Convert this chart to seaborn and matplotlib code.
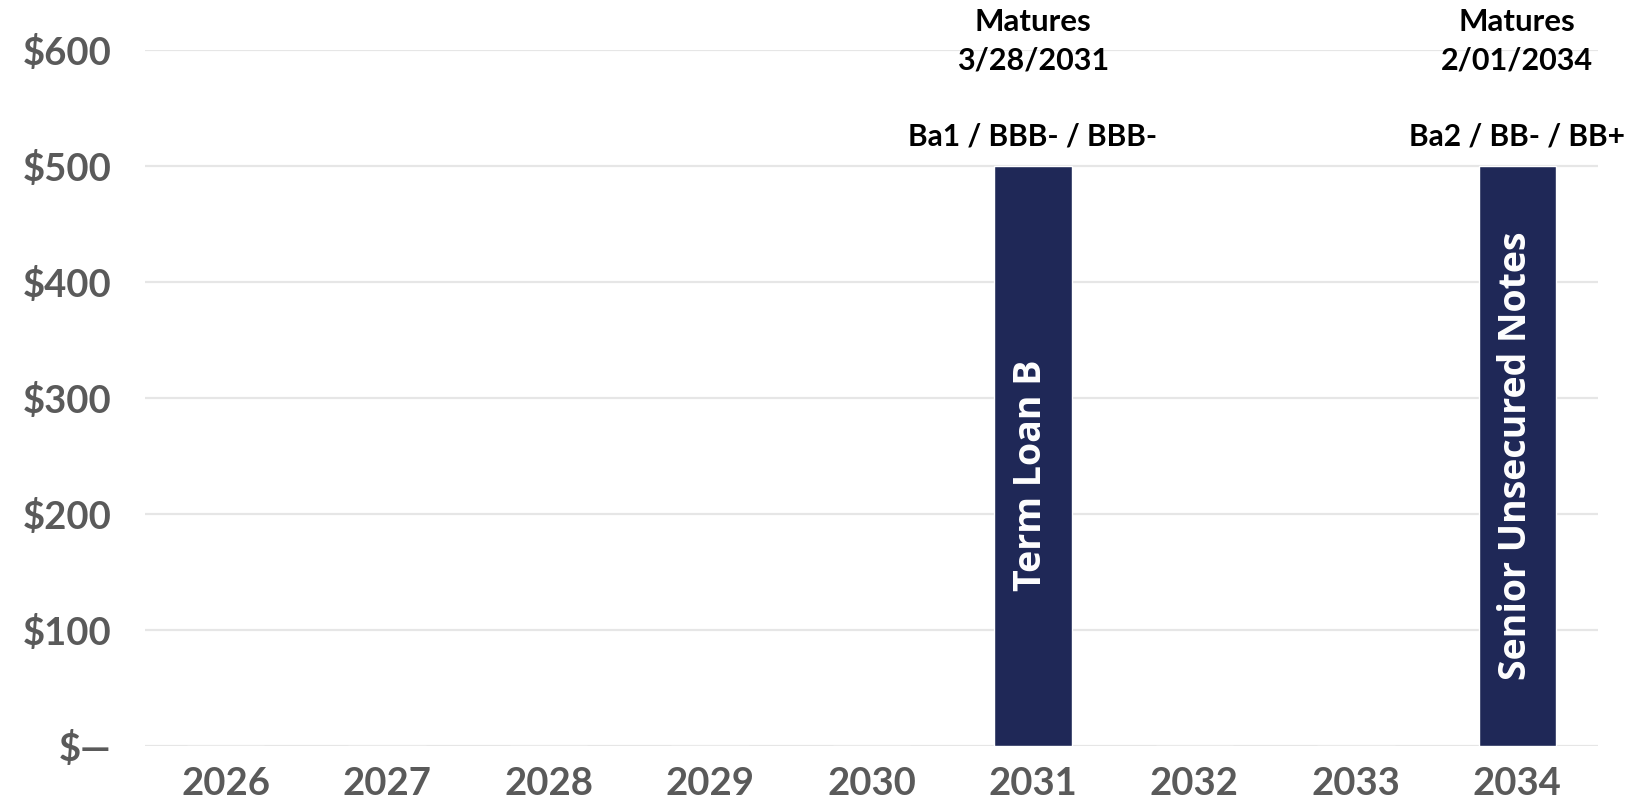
import matplotlib
matplotlib.use("Agg")
import matplotlib.pyplot as plt
import seaborn as sns
import pandas as pd

# Debt maturities by year ($ millions)
years = ["2026", "2027", "2028", "2029", "2030", "2031", "2032", "2033", "2034"]
amounts = [0, 0, 0, 0, 0, 500, 0, 0, 500]
y_ticks = [0, 100, 200, 300, 400, 500, 600]
y_tick_labels = ["$\u2014", "$100", "$200", "$300", "$400", "$500", "$600"]

# Facilities drawn as bars: label inside the bar, maturity and ratings above
facility_years = ["2031", "2034"]
facility_names = ["Term Loan B", "Senior Unsecured Notes"]
facility_label_y = [233, 250]
maturity_dates = ["3/28/2031", "2/01/2034"]
ratings = ["Ba1 / BBB- / BBB-", "Ba2 / BB- / BB+"]

NAVY = "#1f2857"
GREY = "#5a5a5a"
GRID = "#e6e6e6"

sns.set_theme(style="white")
plt.rcParams["font.family"] = ["Lato", "DejaVu Sans"]

df = pd.DataFrame({"year": years, "amount": amounts})

fig = plt.figure(figsize=(16.42, 8.0), dpi=100)
ax = fig.add_axes([0.0883, 0.0675, 0.8849, 0.87])

sns.barplot(data=df, x="year", y="amount", color=NAVY, width=0.48,
            saturation=1, ax=ax, zorder=3)

ax.set_xlim(-0.5, len(years) - 0.5)
ax.set_ylim(0, 600)
ax.set_yticks(y_ticks)
ax.set_yticklabels(y_tick_labels)
ax.set_xlabel("")
ax.set_ylabel("")

ax.yaxis.grid(True, color=GRID, linewidth=1.6, zorder=0)
ax.xaxis.grid(False)
for s in ax.spines.values():
    s.set_visible(False)

ax.tick_params(axis="y", length=0, pad=24, labelsize=27.5, labelcolor=GREY)
ax.tick_params(axis="x", length=0, pad=15, labelsize=27.5, labelcolor=GREY)
for lab in ax.get_yticklabels() + ax.get_xticklabels():
    lab.set_fontweight("bold")

for yr, name, ly, date, rating in zip(facility_years, facility_names,
                                      facility_label_y, maturity_dates, ratings):
    i = years.index(yr)
    val = amounts[i]
    ax.text(i - 0.01, ly, name, rotation=90, ha="center", va="center",
            color="white", fontsize=27, fontweight="bold",
            family=["Open Sans", "DejaVu Sans"], zorder=4)
    ax.annotate(rating, xy=(i, val), xytext=(0, 21), textcoords="offset points",
                ha="center", va="center", fontsize=21.5, fontweight="bold",
                color="black", annotation_clip=False)
    ax.annotate(date, xy=(i, val), xytext=(0, 76), textcoords="offset points",
                ha="center", va="center", fontsize=22, fontweight="bold",
                color="black", annotation_clip=False)
    ax.annotate("Matures", xy=(i, val), xytext=(0, 104), textcoords="offset points",
                ha="center", va="center", fontsize=22.5, fontweight="bold",
                color="black", annotation_clip=False)

fig.savefig("out.png", dpi=100)
